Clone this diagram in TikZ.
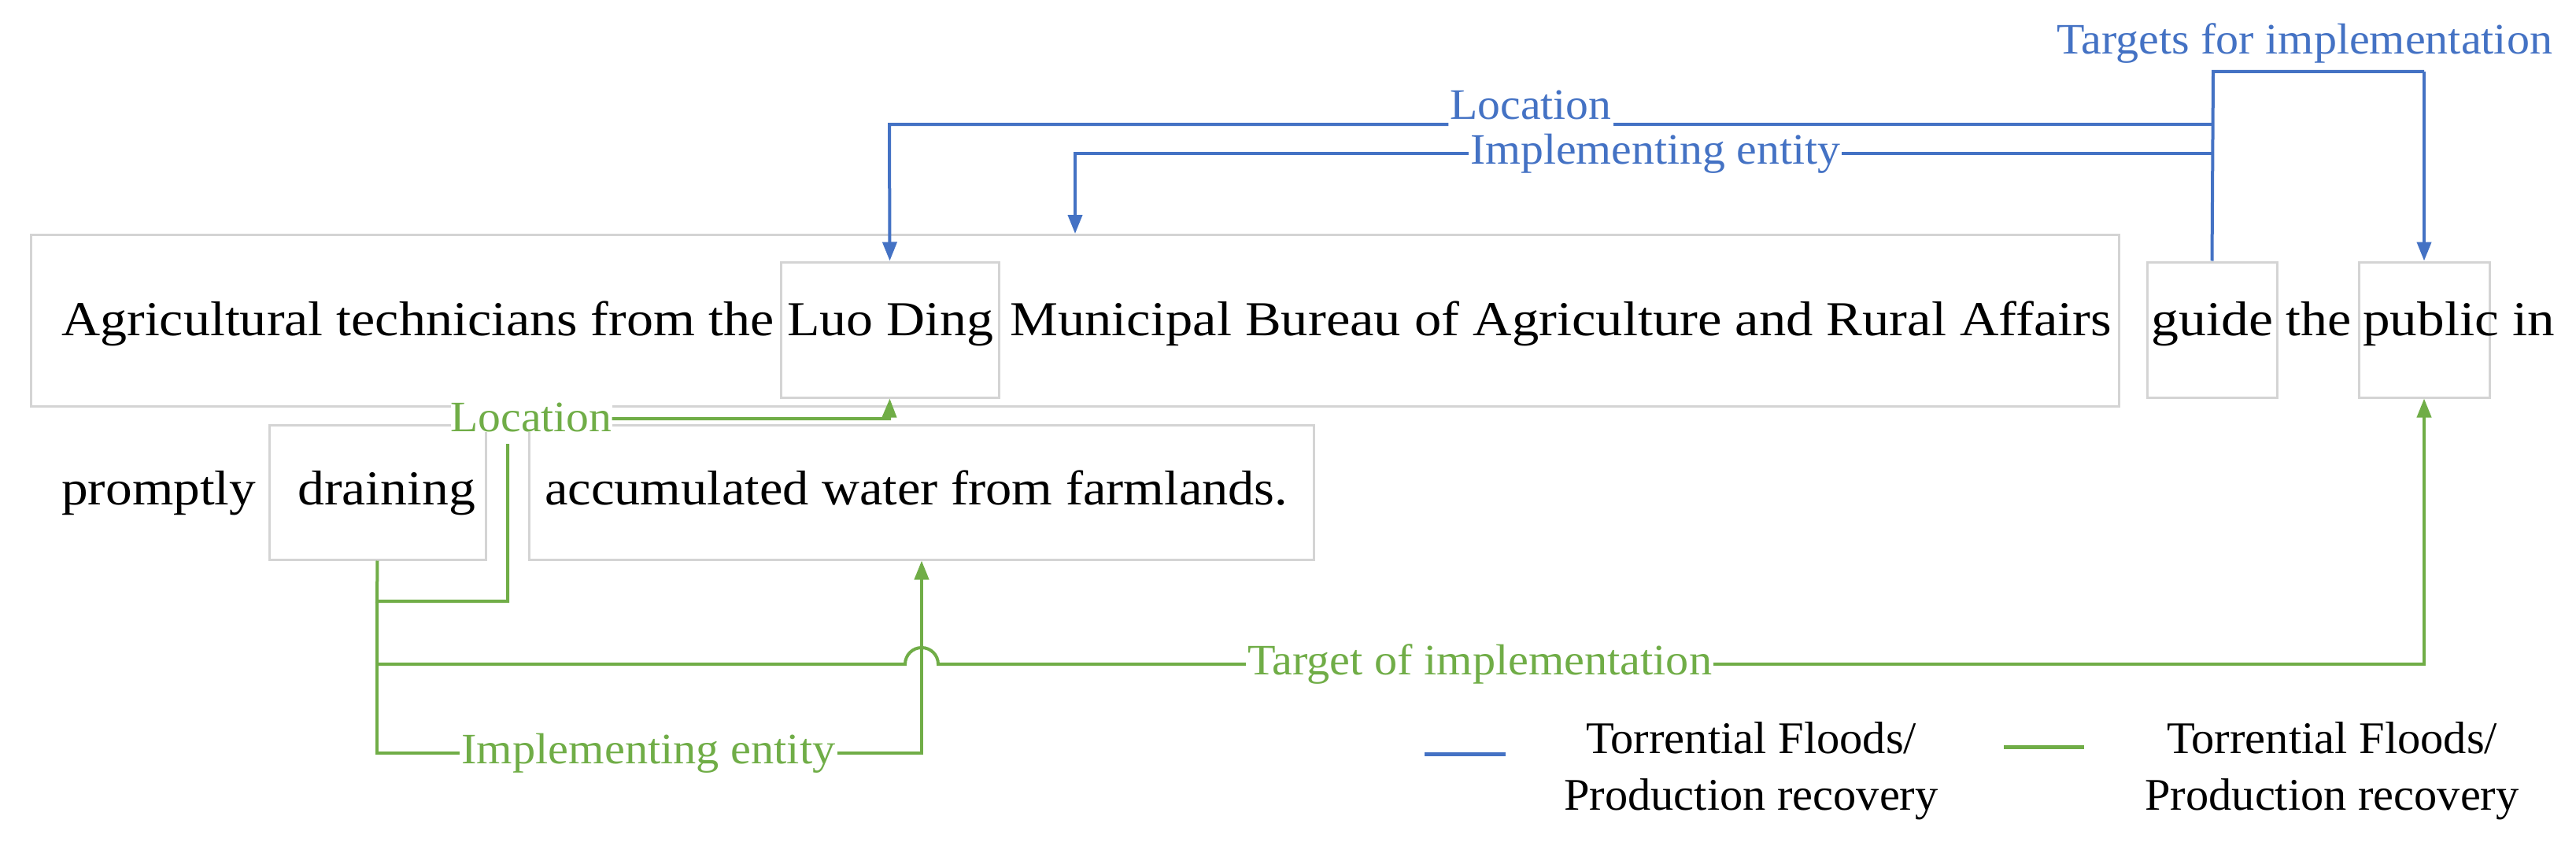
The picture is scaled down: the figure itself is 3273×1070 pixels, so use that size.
\documentclass[tikz,border=0pt]{standalone}
\usepackage{fontspec}
\setmainfont{Liberation Serif}
\usetikzlibrary{arrows.meta}
\newcommand\ft[2]{\resizebox{#1pt}{\height}{#2}}
\newcommand\fl[2]{\resizebox{#1pt}{1.15\height}{#2}}
\definecolor{bl}{HTML}{4472C4}
\definecolor{gr}{HTML}{70AD47}
\definecolor{bx}{HTML}{D4D4D4}
\tikzset{
 box/.style={draw=bx,line width=3pt,inner sep=0pt},
 wtxt/.style={anchor=base west,inner sep=0pt,font=\fontsize{62}{62}\selectfont},
 lbl/.style={inner sep=2pt,fill=white,font=\fontsize{48}{48}\selectfont},
 bline/.style={draw=bl,line width=4pt},
 gline/.style={draw=gr,line width=4pt},
 tip/.style={-{Triangle[width=18pt,length=24pt]}}
}
\begin{document}
\begin{tikzpicture}[x=1pt,y=-1pt]
\useasboundingbox[fill=white] (0,0) rectangle (3273,1070);
% boxes
\node[box,minimum width=2653pt,minimum height=218pt] (big) at (1365.5,407) {};
\node[box,minimum width=277pt,minimum height=172pt] (luo) at (1130.5,419) {};
\node[box,minimum width=165pt,minimum height=172pt] (guide) at (2810.5,419) {};
\node[box,minimum width=166pt,minimum height=172pt] (public) at (3080,419) {};
\node[box,minimum width=275pt,minimum height=171pt] (drain) at (479.5,625.5) {};
\node[box,minimum width=997pt,minimum height=171pt] (acc) at (1170.5,625.5) {};
% texts
\node[wtxt] (t1) at (78,426) {\ft{905}{Agricultural technicians from the}};
\node[wtxt] (t2) at (1000,426) {\ft{262}{Luo Ding}};
\node[wtxt] (t3) at (1283,426) {\ft{1400}{Municipal Bureau of Agriculture and Rural Affairs}};
\node[wtxt] (t4) at (2733,426) {\ft{155}{guide}};
\node[wtxt] (t5) at (2904,426) {\ft{83}{the}};
\node[wtxt] (t6) at (3002,426) {\ft{244}{public in}};
\node[wtxt] (t7) at (78,641) {\ft{247}{promptly}};
\node[wtxt] (t8) at (378,641) {\ft{226}{draining}};
\node[wtxt] (t9) at (692,641) {\ft{944}{accumulated water from farmlands.}};
% blue
\node[lbl,text=bl] (tgt) at (2928,55) {\fl{630}{Targets for implementation}};
\node[lbl,text=bl] (bloc) at (1945,133) {\fl{205}{Location}};
\node[lbl,text=bl] (bimp) at (2103,195) {\fl{470}{Implementing entity}};
\coordinate (j1) at (2812,91);
\draw[bline] (guide.north) -- (j1) -- (3080,91);
\draw[bline,tip] (3080,91) -- (public.north);
\draw[bline] (2812,158) -- (bloc.south east|-0,158);
\draw[bline,tip] (bloc.south west|-0,158) -- (1130,158) -- (luo.north);
\draw[bline] (2812,195) -- (bimp.east);
\draw[bline,tip] (bimp.west) -- (1366,195) -- (1366,297);
% green
\node[lbl,text=gr,inner sep=0pt] (gloc) at (675,530) {\fl{205}{Location}};
\node[lbl,text=gr] (gtar) at (1880,844) {\fl{590}{Target of implementation}};
\node[lbl,text=gr] (gimp) at (824,957) {\fl{475}{Implementing entity}};
\draw[gline] (drain.south) -- (479,764) -- (645,764) -- (645,564);
\draw[gline,tip] (gloc.east|-0,532) -- (1130,532) -- (luo.south);
\draw[gline] (479,764) -- (479,844) -- (1150,844) arc (180:360:21) -- (gtar.west);
\draw[gline,tip] (gtar.east) -- (3080,844) -- (public.south);
\draw[gline] (479,844) -- (479,957) -- (gimp.west);
\draw[gline,tip] (gimp.east) -- (1171,957) -- (acc.south-|1171,0);
% legend
\draw[bline,line width=5pt] (1810,958) -- (1913,958);
\draw[gline,line width=5pt] (2546,949) -- (2648,949);
\node[inner sep=0pt,font=\fontsize{50}{50}\selectfont] (lb1) at (2225,938) {\fl{420}{Torrential Floods/}};
\node[inner sep=0pt,font=\fontsize{50}{50}\selectfont] (lb2) at (2225,1016) {\fl{475}{Production recovery}};
\node[inner sep=0pt,font=\fontsize{50}{50}\selectfont] (lg1) at (2963,938) {\fl{420}{Torrential Floods/}};
\node[inner sep=0pt,font=\fontsize{50}{50}\selectfont] (lg2) at (2963,1016) {\fl{475}{Production recovery}};
\end{tikzpicture}
\end{document}
